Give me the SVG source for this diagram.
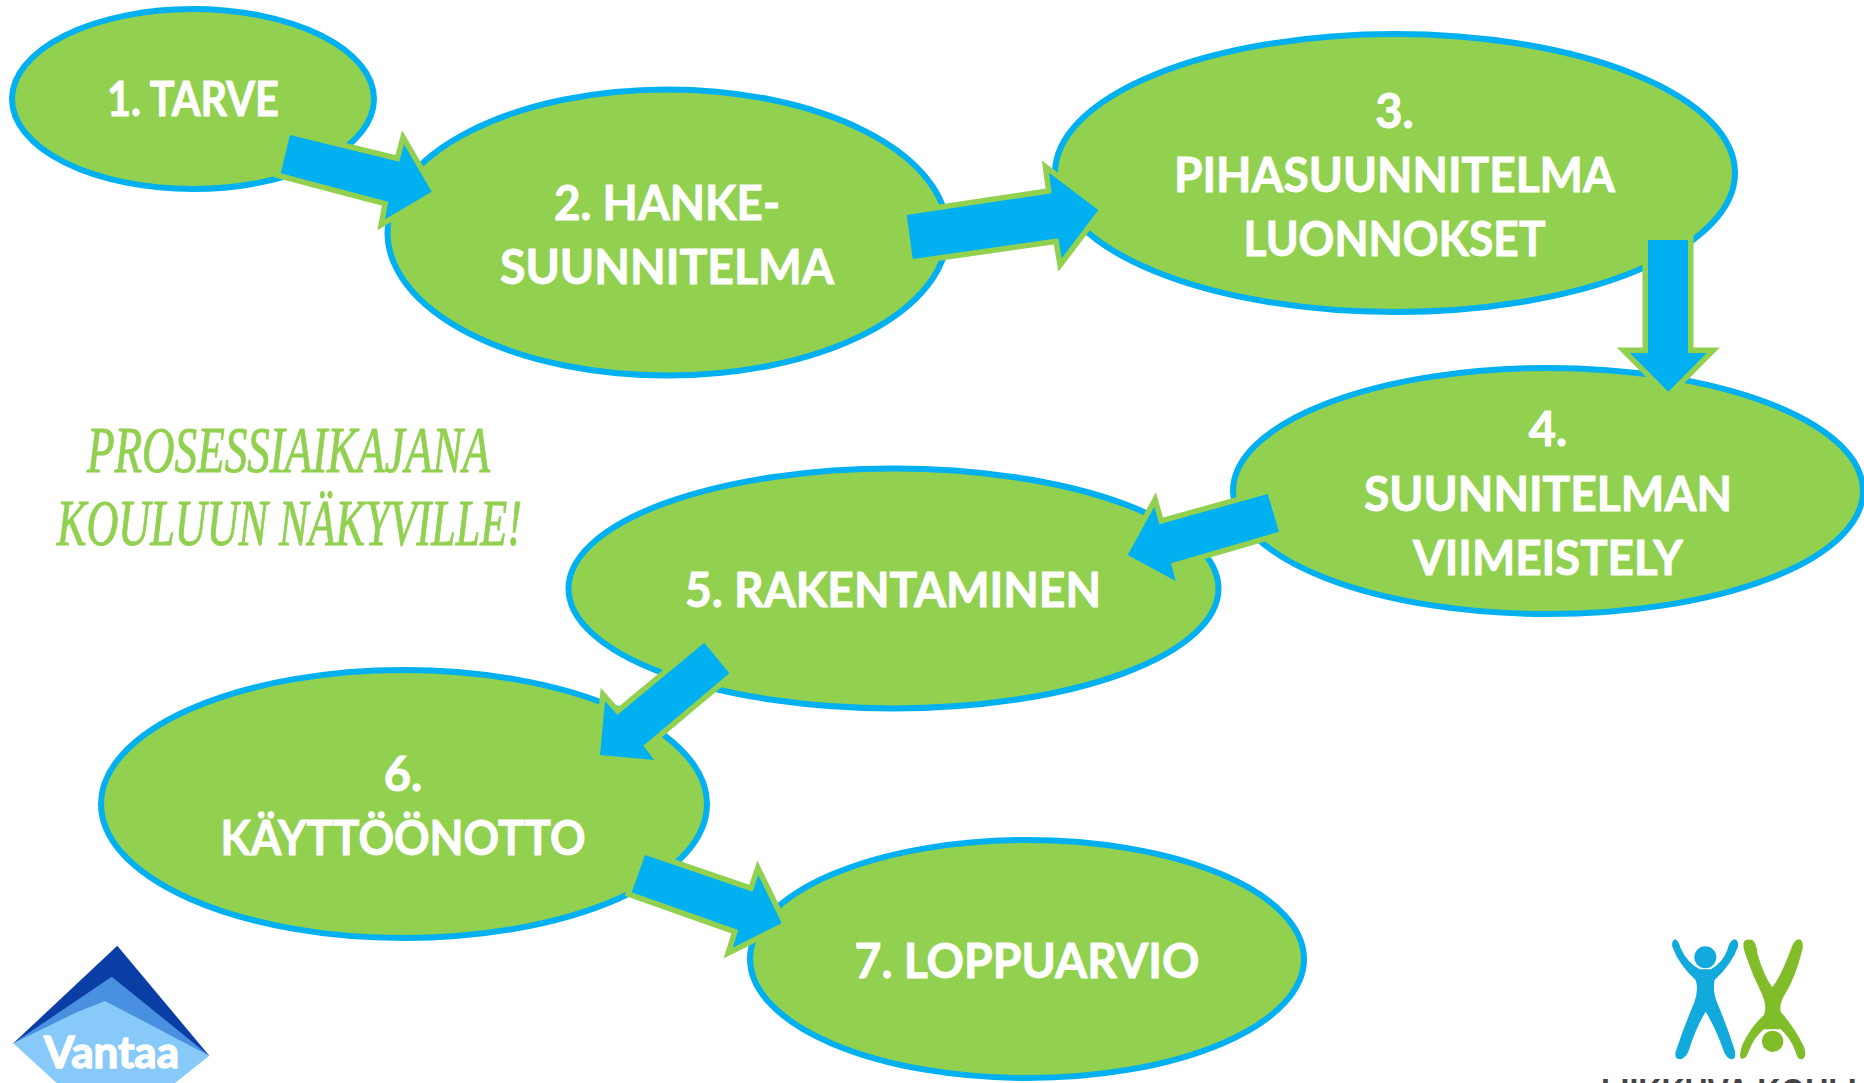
<svg xmlns="http://www.w3.org/2000/svg" width="1864" height="1083" viewBox="0 0 1864 1083">
<style>
.n{fill:#92d050;stroke:#00b0f0;stroke-width:6}
.t{font-family:"Lato","Liberation Sans",sans-serif;font-weight:700;font-size:47px;fill:#fff;stroke:#fff;stroke-width:.9;text-anchor:middle}
.a{fill:#00b0f0;stroke:#92d050;stroke-width:11;stroke-linejoin:miter;stroke-miterlimit:12;paint-order:stroke}
.h{font-family:"Liberation Serif",serif;font-style:italic;font-size:66px;fill:#92d050;stroke:#92d050;stroke-width:1}
</style>
<rect width="1864" height="1083" fill="#fff"/>
<g id="node1"><ellipse class="n" cx="193" cy="99" rx="181" ry="90"/><text class="t" x="193" y="116" textLength="172" lengthAdjust="spacingAndGlyphs">1. TARVE</text></g>
<g id="node2"><ellipse class="n" cx="667.5" cy="232.5" rx="280" ry="143"/><text class="t" x="667" y="220" textLength="226" lengthAdjust="spacingAndGlyphs">2. HANKE-</text><text class="t" x="667" y="284" textLength="334" lengthAdjust="spacingAndGlyphs">SUUNNITELMA</text></g>
<g id="node3"><ellipse class="n" cx="1395" cy="173" rx="340" ry="139"/><text class="t" x="1394.5" y="128">3.</text><text class="t" x="1394.5" y="192" textLength="441" lengthAdjust="spacingAndGlyphs">PIHASUUNNITELMA</text><text class="t" x="1394.5" y="256" textLength="302" lengthAdjust="spacingAndGlyphs">LUONNOKSET</text></g>
<g id="node4"><ellipse class="n" cx="1548" cy="491" rx="315" ry="123"/><text class="t" x="1548" y="446">4.</text><text class="t" x="1548" y="511" textLength="368" lengthAdjust="spacingAndGlyphs">SUUNNITELMAN</text><text class="t" x="1548" y="575" textLength="270" lengthAdjust="spacingAndGlyphs">VIIMEISTELY</text></g>
<g id="node5"><ellipse class="n" cx="893.5" cy="588.5" rx="325" ry="120"/><text class="t" x="893" y="607" textLength="416" lengthAdjust="spacingAndGlyphs">5. RAKENTAMINEN</text></g>
<g id="node6"><ellipse class="n" cx="404" cy="804" rx="303" ry="134"/><text class="t" x="403" y="791">6.</text><text class="t" x="403" y="855" textLength="365" lengthAdjust="spacingAndGlyphs">KÄYTTÖÖNOTTO</text></g>
<g id="node7"><ellipse class="n" cx="1027" cy="959" rx="277" ry="119"/><text class="t" x="1027" y="978" textLength="345" lengthAdjust="spacingAndGlyphs">7. LOPPUARVIO</text></g>
<g id="connectors">
<polygon class="a" points="290,135 399.3,161.7 404,144.3 431.7,191.7 385,219.3 388.3,201.7 280.7,173.3"/>
<polygon class="a" points="906.7,215 1051.7,193.3 1049,172.7 1098.3,210 1061.7,258.3 1058.3,238.3 912.7,259"/>
<polygon class="a" points="1648,240 1688,240 1688,353 1706.7,353 1668.3,391.7 1630,353 1648,353"/>
<polygon class="a" points="1267.7,494 1279,531.7 1171,563.3 1175.7,581 1127.7,555 1154.3,506.7 1159.3,524.3"/>
<polygon class="a" points="704.3,642.7 729.3,673.3 643.3,745.7 654.3,760 600,755 605,701 617.3,715"/>
<polygon class="a" points="645,855 752.7,891.7 758.3,875 781.7,923.3 732.7,947.7 738.3,930 631.7,892.3"/>
</g>
<g id="caption">
<text class="h" x="87" y="472" textLength="403" lengthAdjust="spacingAndGlyphs">PROSESSIAIKAJANA</text>
<text class="h" x="57" y="545" textLength="465" lengthAdjust="spacingAndGlyphs">KOULUUN NÄKYVILLE!</text>
</g>
<g id="vantaa-logo">
<polygon fill="#0a3ea5" points="117.3,945.7 13.3,1043.3 209.3,1055.7"/>
<polygon fill="#4a90e0" points="111.7,976.7 13.3,1043.3 209.3,1055.7"/>
<polygon fill="#87c9f8" points="105,1001 75,1013 13.3,1043.3 56.7,1083 175,1083 209.3,1055.7"/>
<text x="44" y="1068" textLength="135" lengthAdjust="spacingAndGlyphs" font-family="Lato,'Liberation Sans',sans-serif" font-weight="700" font-size="44" fill="#fff" stroke="#fff" stroke-width="1.5">Vantaa</text>
</g>
<g id="liikkuva-logo">
<g transform="translate(1564 900) scale(.3333)">
<circle cx="424" cy="172" r="33" fill="#12a9dc"/>
<path fill="#12a9dc" d="M335 118Q322 120 325 140Q345 195 395 240Q405 270 390 310Q360 380 335 455Q330 478 350 478Q365 475 375 450Q395 385 425 335Q455 385 478 450Q488 478 505 478Q518 475 512 450Q490 380 460 310Q445 270 452 240Q505 190 522 140Q525 120 510 118Q495 125 490 150Q475 190 440 208L408 208Q370 190 350 145Q345 125 335 118Z"/>
<circle cx="626" cy="424" r="32" fill="#80bd28"/>
<path fill="#80bd28" d="M540 125Q545 115 565 120Q578 130 580 160Q600 230 625 262Q650 230 680 150Q690 118 705 118Q720 120 715 150Q695 230 665 280Q645 310 650 335Q690 380 720 440Q730 470 715 478Q700 480 695 455Q680 415 650 388L600 388Q570 410 552 460Q545 480 530 475Q525 465 535 435Q560 380 600 345Q610 320 595 285Q565 225 545 165Q535 135 540 125Z"/>
</g>
<text x="1601" y="1105" textLength="270" lengthAdjust="spacingAndGlyphs" font-family="'Liberation Sans',sans-serif" font-weight="700" font-size="37" fill="#444">LIIKKUVA KOULU</text>
</g>
</svg>
